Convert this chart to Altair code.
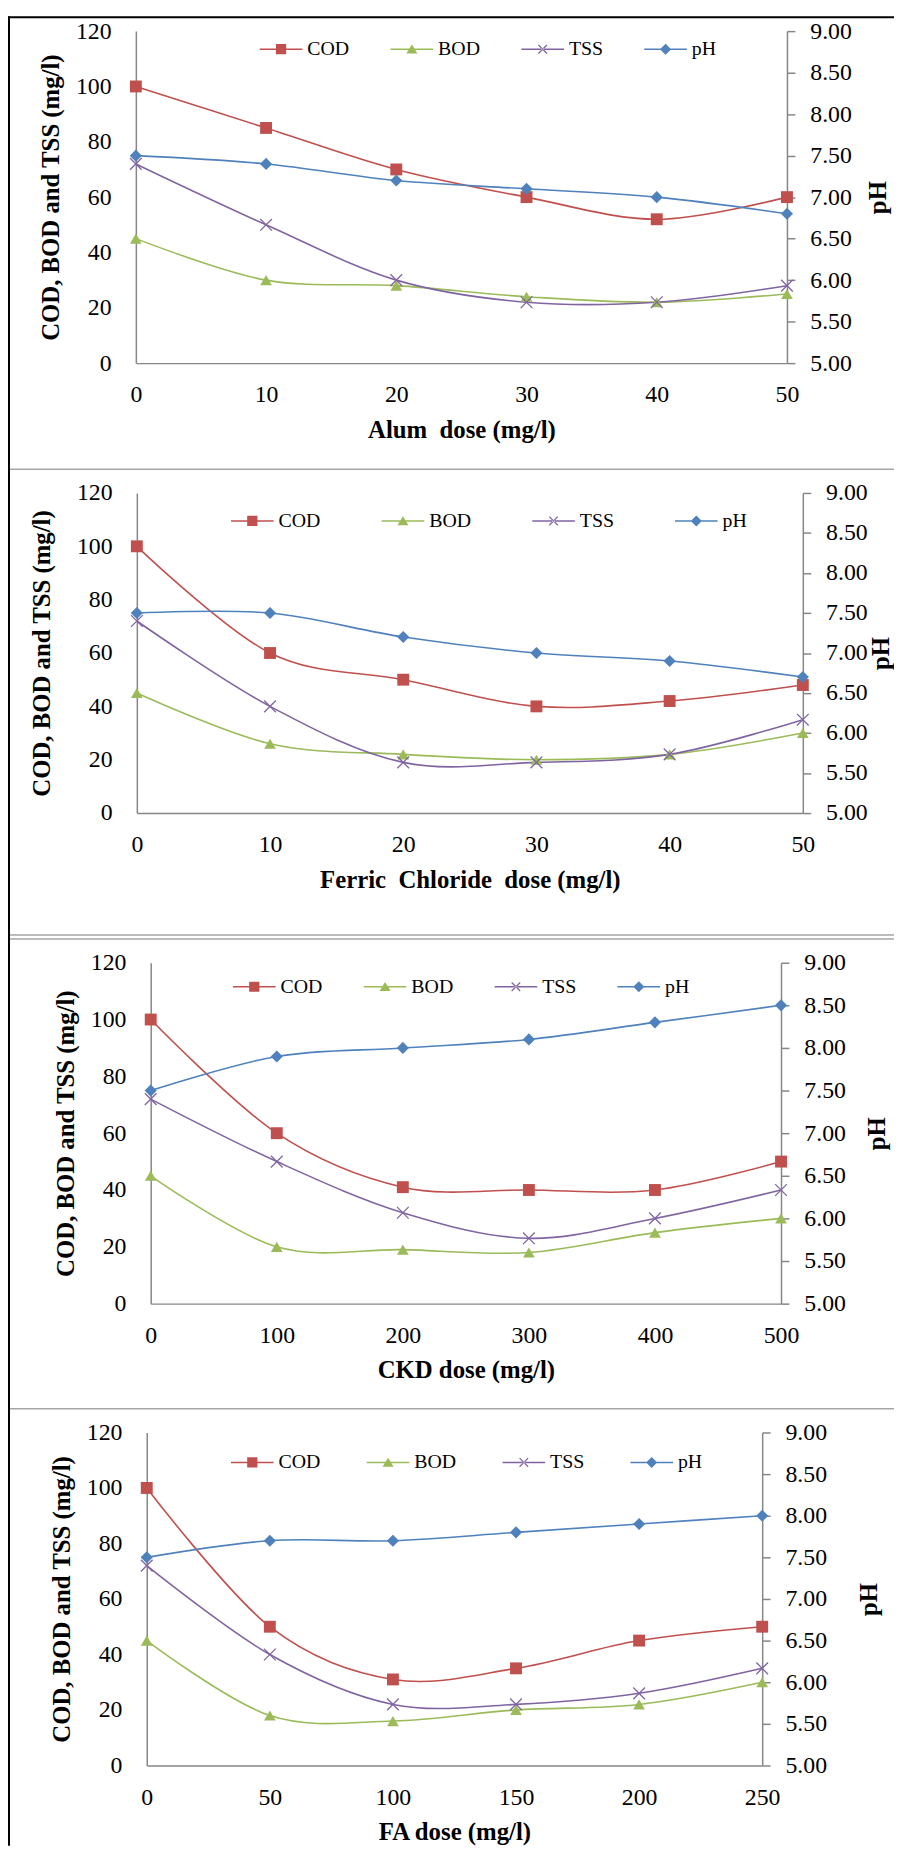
import altair as alt
import pandas as pd

SERIES = ["COD", "BOD", "TSS", "pH"]
COLORS = ["#C0504D", "#9BBB59", "#8064A2", "#4F81BD"]

# ---- data ----
alum_dose = [0, 10, 20, 30, 40, 50]
alum_cod = [100, 85, 70, 60, 52, 60]
alum_bod = [45, 30, 28, 24, 22, 25]
alum_tss = [72, 50, 30, 22, 22, 28]
alum_ph = [7.5, 7.4, 7.2, 7.1, 7.0, 6.8]

ferric_dose = [0, 10, 20, 30, 40, 50]
ferric_cod = [100, 60, 50, 40, 42, 48]
ferric_bod = [45, 26, 22, 20, 22, 30]
ferric_tss = [72, 40, 19, 19, 22, 35]
ferric_ph = [7.5, 7.5, 7.2, 7.0, 6.9, 6.7]

ckd_dose = [0, 100, 200, 300, 400, 500]
ckd_cod = [100, 60, 41, 40, 40, 50]
ckd_bod = [45, 20, 19, 18, 25, 30]
ckd_tss = [72, 50, 32, 23, 30, 40]
ckd_ph = [7.5, 7.9, 8.0, 8.1, 8.3, 8.5]

fa_dose = [0, 50, 100, 150, 200, 250]
fa_cod = [100, 50, 31, 35, 45, 50]
fa_bod = [45, 18, 16, 20, 22, 30]
fa_tss = [72, 40, 22, 22, 26, 35]
fa_ph = [7.5, 7.7, 7.7, 7.8, 7.9, 8.0]

left_ticks = [0, 20, 40, 60, 80, 100, 120]
right_ticks = [5.0, 5.5, 6.0, 6.5, 7.0, 7.5, 8.0, 8.5, 9.0]

FONT = "Liberation Serif"
GRAY = "#868686"
W, H = 894, 1846

LINE = "M-1,-0.035H1V0.035H-1Z "
LEG_PATHS = [
    LINE + "M-0.24,-0.24H0.24V0.24H-0.24Z",
    LINE + "M0,-0.22L0.26,0.2H-0.26Z",
    LINE + "M-0.22,-0.18L0.18,0.22L0.22,0.18L-0.18,-0.22Z M-0.18,0.22L0.22,-0.18L0.18,-0.22L-0.22,0.18Z",
    LINE + "M0,-0.26L0.26,0L0,0.26L-0.26,0Z",
]
X_PATH = "M-1,-1L1,1M-1,1L1,-1"

# panel frames (pixels in the single plot area)
panels_spec = [
    dict(title="Alum\u00a0 dose (mg/l)", dose=alum_dose, cod=alum_cod, bod=alum_bod, tss=alum_tss, ph=alum_ph,
         x0=129, x1=786, y0=15, y1=350, legx=254, legy=33, colpad=41, ltp=12, rtp=14),
    dict(title="Ferric\u00a0 Chloride\u00a0 dose (mg/l)", dose=ferric_dose, cod=ferric_cod, bod=ferric_bod,
         tss=ferric_tss, ph=ferric_ph,
         x0=130, x1=802, y0=481, y1=804, legx=225, legy=509, colpad=61, ltp=22, rtp=1),
    dict(title="CKD dose (mg/l)", dose=ckd_dose, cod=ckd_cod, bod=ckd_bod, tss=ckd_tss, ph=ckd_ph,
         x0=144, x1=780, y0=955, y1=1299, legx=227, legy=979, colpad=41, ltp=12, rtp=19),
    dict(title="FA dose (mg/l)", dose=fa_dose, cod=fa_cod, bod=fa_bod, tss=fa_tss, ph=fa_ph,
         x0=140, x1=761, y0=1429, y1=1765, legx=225, legy=1459, colpad=46, ltp=12, rtp=30),
]

MARKERS = {
    "COD": dict(shape="square", size=144, filled=True),
    "BOD": dict(shape="triangle-up", size=140, filled=True),
    "TSS": dict(shape=X_PATH, size=140, filled=False, strokeWidth=1.3),
    "pH": dict(shape="diamond", size=150, filled=True),
}


def make_panel(p):
    df = pd.DataFrame({"dose": p["dose"], "COD": p["cod"], "BOD": p["bod"], "TSS": p["tss"], "pH": p["ph"]})
    base = alt.Chart(df)

    xaxis = alt.Axis(orient="bottom", offset=-(H - p["y1"]), values=p["dose"], ticks=False, labelFontSize=24,
                     labelPadding=20, labelFlush=False, labelOverlap=False, title=p["title"], titleFontSize=25,
                     titleFontWeight="bold", titlePadding=11)
    xenc = alt.X("dose:Q", scale=alt.Scale(domain=[0, p["dose"][-1]], range=[p["x0"], p["x1"]], nice=False,
                                           zero=False), axis=xaxis)

    yl_axis = alt.Axis(orient="left", offset=-p["x0"], values=left_ticks, ticks=False, labelFontSize=24,
                       labelPadding=25, labelFlush=False, title="COD, BOD and TSS (mg/l)", titleFontSize=25,
                       titleFontWeight="bold", titlePadding=p["ltp"])
    yl_scale = alt.Scale(domain=[0, 120], range=[p["y1"], p["y0"]], nice=False, zero=False)
    yr_axis = alt.Axis(orient="right", offset=-(W - p["x1"]), values=right_ticks, format=".2f", tickSize=8,
                       tickColor=GRAY, tickWidth=1.5, labelFontSize=24, labelPadding=15, labelFlush=False,
                       title="pH", titleFontSize=25, titleFontWeight="bold", titleAngle=270,
                       titleBaseline="top", titlePadding=p["rtp"])
    yr_scale = alt.Scale(domain=[5, 9], range=[p["y1"], p["y0"]], nice=False, zero=False)

    left = []
    for name, col in zip(SERIES[:3], COLORS[:3]):
        y = alt.Y(f"{name}:Q", scale=yl_scale, axis=yl_axis)
        left.append(base.mark_line(color=col, strokeWidth=1.6, interpolate="cardinal").encode(x=xenc, y=y))
    for name, col in zip(SERIES[:3], COLORS[:3]):
        y = alt.Y(f"{name}:Q", scale=yl_scale, axis=yl_axis)
        left.append(base.mark_point(color=col, opacity=1, **MARKERS[name]).encode(x=xenc, y=y))

    leg = alt.Legend(orient="none", legendX=p["legx"], legendY=p["legy"] - 21.5, direction="horizontal",
                     symbolSize=1849, symbolStrokeWidth=0, labelFontSize=20, labelOffset=5,
                     columnPadding=p["colpad"], labelBaseline="middle")
    legend_layer = alt.Chart(pd.DataFrame({"series": SERIES})).transform_filter("false").mark_point(
        filled=True, opacity=1).encode(
        color=alt.Color("series:N", title=None, scale=alt.Scale(domain=SERIES, range=COLORS), legend=leg),
        shape=alt.Shape("series:N", title=None, scale=alt.Scale(domain=SERIES, range=LEG_PATHS), legend=leg),
    )

    left_group = alt.layer(*left, legend_layer)

    yr = alt.Y("pH:Q", scale=yr_scale, axis=yr_axis)
    right_group = alt.layer(
        base.mark_line(color=COLORS[3], strokeWidth=1.6, interpolate="cardinal").encode(x=xenc, y=yr),
        base.mark_point(color=COLORS[3], opacity=1, **MARKERS["pH"]).encode(x=xenc, y=yr),
    )
    return alt.layer(left_group, right_group).resolve_scale(y="independent")


# frame decoration (panel borders)
one = alt.Chart(pd.DataFrame({"k": [0]}))
frame = [
    one.mark_rule(color="#000000", strokeWidth=2).encode(x=alt.value(0), x2=alt.value(W), y=alt.value(1)),
    one.mark_rule(color="#000000", strokeWidth=2).encode(x=alt.value(1), y=alt.value(0), y2=alt.value(H)),
]
for yy in [457, 927, 931, 1405]:
    frame.append(one.mark_rule(color="#A6A6A6", strokeWidth=1.5).encode(
        x=alt.value(2), x2=alt.value(W), y=alt.value(yy)))

chart = alt.layer(*frame, *[make_panel(p) for p in panels_spec]).resolve_scale(
    x="independent", y="independent", color="independent", shape="independent"
).resolve_legend(color="independent", shape="independent").properties(
    width=W, height=H, padding=0, autosize=alt.AutoSizeParams(type="none")
).configure_axis(
    labelFont=FONT, titleFont=FONT, labelColor="black", titleColor="black",
    domainColor=GRAY, domainWidth=1.5, grid=False
).configure_legend(labelFont=FONT, labelColor="black").configure_view(strokeWidth=0)

chart.save("out.html", embed_options={"renderer": "svg", "actions": False})
